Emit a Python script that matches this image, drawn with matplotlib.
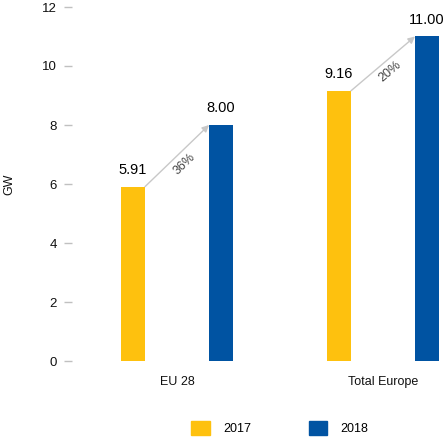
import matplotlib
matplotlib.use("Agg")
import matplotlib.pyplot as plt
from matplotlib.patches import Patch
import numpy as np

categories = ["EU 28", "Total Europe"]
series_names = ["2017", "2018"]
values_2017 = [5.91, 9.16]
values_2018 = [8.00, 11.00]
growth_labels = ["36%", "20%"]
yticks = [0, 2, 4, 6, 8, 10, 12]

c2017 = "#FEC10E"
c2018 = "#0053A2"

plt.rcParams['font.family'] = ['Liberation Sans', 'DejaVu Sans']

fig = plt.figure(figsize=(4.46, 4.40), dpi=100)
ax = fig.add_axes([72/446, 79/440, 374/446, 354/440])

x = np.arange(len(categories))
off = 44/206
w = 24/206
ax.bar(x - off, values_2017, w, color=c2017)
ax.bar(x + off, values_2018, w, color=c2018)

ax.set_xlim((72-177)/206, (446-177)/206)
ax.set_ylim(0, 12)
ax.set_yticks(yticks)
ax.set_yticklabels([str(t) for t in yticks], fontsize=9.5, color="#111111")
ax.set_xticks(x)
ax.set_xticklabels(categories, fontsize=9, color="#111111")
ax.tick_params(axis='y', length=5.8, width=1, color="#c0c0c0", pad=5, direction='out')
ax.tick_params(axis='x', length=0, pad=11)
for s in ax.spines.values():
    s.set_visible(False)
ax.set_ylabel("GW", fontsize=9, color="#111111", labelpad=19)

# value labels
for xi, v in zip(x - off, values_2017):
    ax.annotate(f"{v:.2f}", (xi, v), xytext=(0, 7), textcoords="offset points",
                ha='center', va='bottom', fontsize=10.5, color="#000000")
for xi, v in zip(x + off, values_2018):
    ax.annotate(f"{v:.2f}", (xi, v), xytext=(0, 7), textcoords="offset points",
                ha='center', va='bottom', fontsize=10.5, color="#000000")

fig.canvas.draw()
for i in range(len(categories)):
    x0, y0 = x[i] - off + w/2, values_2017[i]
    x1, y1 = x[i] + off - w/2, values_2018[i]
    ax.annotate("", xy=(x1, y1), xytext=(x0, y0),
                arrowprops=dict(arrowstyle="-|>", color="#c8c8c8", lw=1,
                                shrinkA=0, shrinkB=0, mutation_scale=10))
    p0 = ax.transData.transform((x0, y0))
    p1 = ax.transData.transform((x1, y1))
    d = p1 - p0
    ang = np.degrees(np.arctan2(d[1], d[0]))
    mid = (p0 + p1) / 2
    n = np.array([d[1], -d[0]]) / np.hypot(*d)
    pos = mid + n * 11
    pdata = ax.transData.inverted().transform(pos)
    ax.text(pdata[0], pdata[1], growth_labels[i], rotation=ang, rotation_mode='anchor',
            ha='center', va='center', fontsize=9, color="#444444")

handles = [Patch(color=c2017), Patch(color=c2018)]
fig.legend(handles, series_names, loc='center', bbox_to_anchor=(280/446, 1 - 428/440),
           ncol=2, frameon=False, fontsize=9, handlelength=1.45, handleheight=1.45,
           handletextpad=1.1, columnspacing=4.6)

fig.savefig("out.png", dpi=100)
